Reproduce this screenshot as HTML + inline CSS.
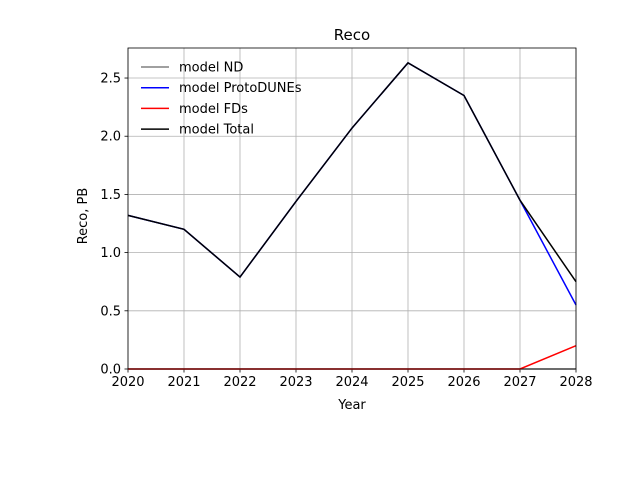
<!DOCTYPE html>
<html><head><meta charset="utf-8"><style>body{margin:0;background:#fff}svg{display:block;font-family:"DejaVu Sans","Liberation Sans",sans-serif}</style></head>
<body>
<svg id="chart" width="640" height="480"></svg>
<script>
const years=[2020,2021,2022,2023,2024,2025,2026,2027,2028];
const ndValues=[0,0,0,0,0,0,0,0,0];
const protoValues=[1.32,1.20,0.79,1.44,2.07,2.63,2.35,1.45,0.55];
const fdValues=[0,0,0,0,0,0,0,0,0.20];
const totalValues=[1.32,1.20,0.79,1.44,2.07,2.63,2.35,1.45,0.75];
const yTicks=[0,0.5,1.0,1.5,2.0,2.5];
const xTicks=[2020,2021,2022,2023,2024,2025,2026,2027,2028];
const L=128,R=576,T=48,B=369,ymax=2.758;
const sx=v=>L+(v-2020)/(2028-2020)*(R-L);
const sy=v=>B-v/ymax*(B-T);
const svg=document.getElementById('chart');
const NS='http://www.w3.org/2000/svg';
function mk(t,a,p){const e=document.createElementNS(NS,t);for(const k in a)e.setAttribute(k,a[k]);(p||svg).appendChild(e);return e;}
xTicks.forEach(v=>{
const g=mk('line',{x1:sx(v),x2:sx(v),y1:T,y2:B,stroke:'#b0b0b0','stroke-width':0.8});


const tk=mk('line',{x1:sx(v),x2:sx(v),y1:B,y2:B+3.5,stroke:'#000','stroke-width':0.8});


const t=mk('text',{x:sx(v),y:B+17,'text-anchor':'middle','font-size':13});t.textContent=v;


});
yTicks.forEach(v=>{
const g=mk('line',{x1:L,x2:R,y1:sy(v),y2:sy(v),stroke:'#b0b0b0','stroke-width':0.8});


const tk=mk('line',{x1:L-3.5,x2:L,y1:sy(v),y2:sy(v),stroke:'#000','stroke-width':0.8});


const t=mk('text',{x:L-7,y:sy(v)+4.5,'text-anchor':'end','font-size':13});t.textContent=v.toFixed(1);


});
const series=[['nd',ndValues,'grey'],['protodunes',protoValues,'blue'],['fds',fdValues,'red'],['total',totalValues,'black']];
series.forEach(([n,vals,c])=>{
const p=mk('polyline',{points:vals.map((v,i)=>sx(years[i])+','+sy(v)).join(' '),fill:'none',stroke:c,'stroke-width':1.5});


});
const fr=mk('rect',{x:L,y:T,width:R-L,height:B-T,fill:'none',stroke:'#000','stroke-width':0.8});


const labels=['model ND','model ProtoDUNEs','model FDs','model Total'];
labels.forEach((lb,i)=>{
const y=67+i*20.7;
const l=mk('line',{x1:141,x2:169,y1:y,y2:y,stroke:series[i][2],'stroke-width':1.5});


const t=mk('text',{x:179,y:y+4.5,'font-size':13});t.textContent=lb;


});
const ti=mk('text',{x:352,y:40,'text-anchor':'middle','font-size':15});ti.textContent='Reco';


const xl=mk('text',{x:352,y:409,'text-anchor':'middle','font-size':13});xl.textContent='Year';


const yl=mk('text',{x:87,y:216,'text-anchor':'middle','font-size':13,transform:'rotate(-90 87 216)'});yl.textContent='Reco, PB';


</script>
</body></html>
